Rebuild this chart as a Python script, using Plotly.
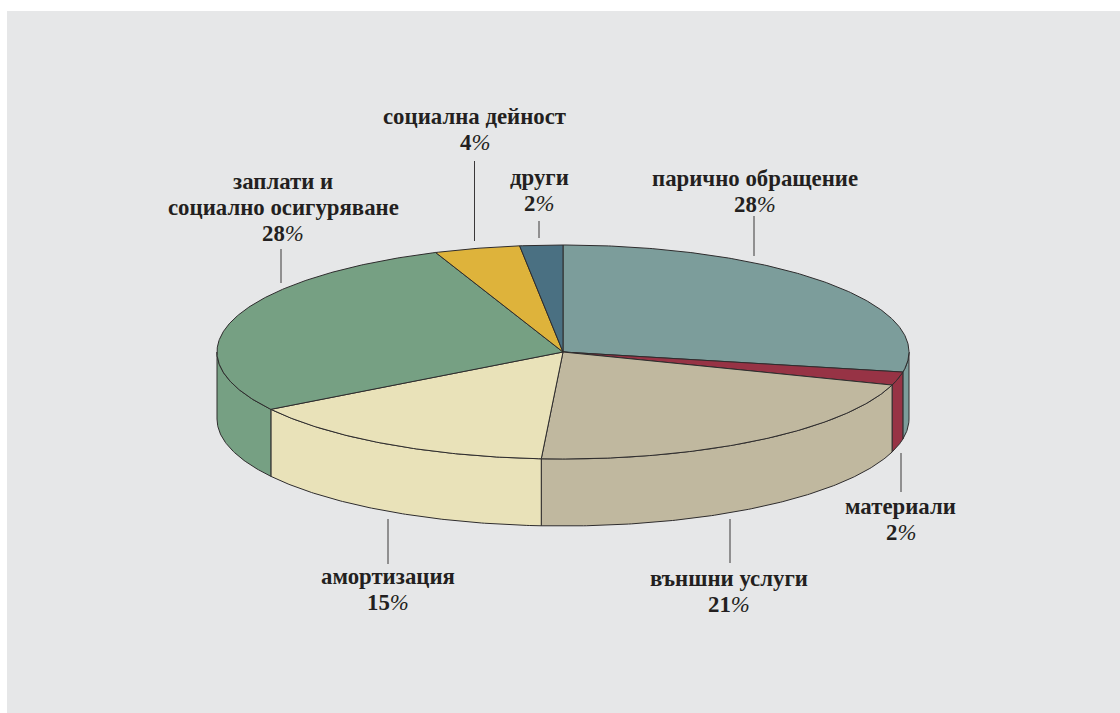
import numpy as np
import plotly.graph_objects as go

# Budget shares, clockwise from twelve o'clock
categories = ["парично обращение", "материали", "външни услуги", "амортизация",
              "заплати и социално осигуряване", "социална дейност", "други"]
values = [28, 2, 21, 15, 28, 4, 2]
label_lines = [["парично обращение"], ["материали"], ["външни услуги"], ["амортизация"],
               ["заплати и", "социално осигуряване"], ["социална дейност"], ["други"]]
colors = ["#7C9D9B", "#973345", "#C0B89F", "#E9E2B9", "#76A083", "#DEB33B", "#4A7082"]

# Label anchors and leader lines in canvas pixels, same order as categories
label_x = [755, 900.5, 729, 388, 283, 474.5, 539]
label_first_y = [178, 506, 578, 576, 181, 116, 177]
leader_x = [754, 901, 730, 388, 281, 474.5, 539]
leader_top = [216, 453, 519, 519, 249, 161, 221]
leader_bottom = [256, 492, 563, 564, 283, 241, 238]

WIDTH, HEIGHT = 1120, 713
CX, CY, RX, RY, DEPTH = 563, 352, 346, 107, 67
LINE_STEP = 26
EDGE = "#2E2C2D"
INK = "#231F20"
PANEL = "#E6E7E8"


def rim(angle_deg, drop=0):
    """Point on the disc rim; angle runs clockwise from the top."""
    a = np.radians(angle_deg)
    return CX + RX * np.sin(a), CY - RY * np.cos(a) + drop


def arc(start, end, drop=0):
    n = max(2, int(abs(end - start) * 2) + 1)
    return rim(np.linspace(start, end, n), drop)


fig = go.Figure()

edges = np.cumsum([0] + values) * 3.6
spans = list(zip(edges[:-1], edges[1:]))

# Side walls: only the part of each slice on the front half of the disc is visible
for name, (start, end), color in zip(categories, spans, colors):
    lo, hi = max(start, 90), min(end, 270)
    if hi <= lo:
        continue
    tx, ty = arc(lo, hi)
    bx, by = arc(hi, lo, DEPTH)
    fig.add_trace(go.Scatter(
        x=np.r_[tx, bx, tx[0]], y=np.r_[ty, by, ty[0]], mode="lines", fill="toself",
        fillcolor=color, line=dict(color=EDGE, width=1), name=name,
        hoverinfo="skip", showlegend=False))

# Top faces
for name, value, (start, end), color in zip(categories, values, spans, colors):
    ax, ay = arc(start, end)
    fig.add_trace(go.Scatter(
        x=np.r_[CX, ax, CX], y=np.r_[CY, ay, CY], mode="lines", fill="toself",
        fillcolor=color, line=dict(color=EDGE, width=1), name=name,
        text=f"{name}: {value}%", hoverinfo="text", showlegend=False))

# Leader lines
for x, top, bottom in zip(leader_x, leader_top, leader_bottom):
    fig.add_trace(go.Scatter(x=[x, x], y=[top, bottom], mode="lines",
                             line=dict(color="#3A3839", width=1),
                             hoverinfo="skip", showlegend=False))

# Labels, one annotation per line for a tight leading;
# the percentage sign is set lighter and slanted
for lines, value, x, first_y in zip(label_lines, values, label_x, label_first_y):
    rows = lines + [f'{value}<span style="font-weight:normal"><i>%</i></span>']
    for i, row in enumerate(rows):
        fig.add_annotation(x=x, y=first_y + i * LINE_STEP, text=row, showarrow=False,
                           xanchor="center", yanchor="middle", align="center",
                           font=dict(family="Liberation Serif", size=22.8, color=INK, weight="bold"))

fig.update_layout(
    width=WIDTH, height=HEIGHT, autosize=False,
    margin=dict(l=0, r=0, t=0, b=0), paper_bgcolor="white", plot_bgcolor="white",
    xaxis=dict(range=[0, WIDTH], visible=False, fixedrange=True),
    yaxis=dict(range=[HEIGHT, 0], visible=False, fixedrange=True),
    shapes=[dict(type="rect", xref="x", yref="y", x0=7, x1=WIDTH, y0=11, y1=HEIGHT,
                 fillcolor=PANEL, line=dict(width=0), layer="below")],
)

fig.write_html("out.html", config=dict(displayModeBar=False))
